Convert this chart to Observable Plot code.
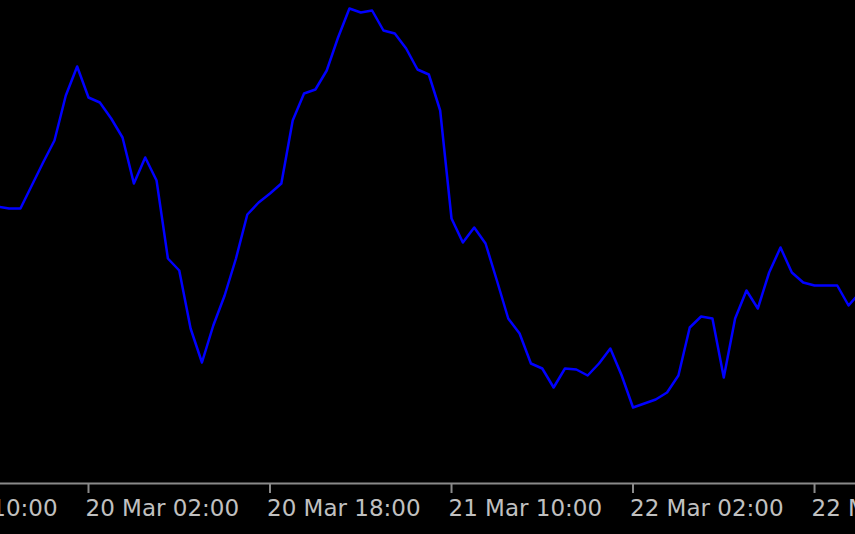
<!DOCTYPE html>
<html>
<head>
<meta charset="utf-8">
<script src="https://cdn.jsdelivr.net/npm/d3@7"></script>
<script src="https://cdn.jsdelivr.net/npm/@observablehq/plot@0.6"></script>
<style>
  html, body { margin: 0; padding: 0; background: #000; overflow: hidden; }
</style>
</head>
<body>
<div id="chart"></div>
<script>
// Hourly closes, starting 19 Mar 18:00 (UTC), one value per hour
const startTime = "2024-03-19T18:00:00Z";
const prices = [
  1.08554, 1.08550, 1.08550, 1.08596, 1.08642, 1.08686, 1.08776, 1.08834,
  1.08772, 1.08762, 1.08730, 1.08692, 1.08600, 1.08652, 1.08606, 1.08450,
  1.08426, 1.08310, 1.08242, 1.08316, 1.08376, 1.08450, 1.08538, 1.08562,
  1.08580, 1.08600, 1.08726, 1.08780, 1.08788, 1.08826, 1.08892, 1.08950,
  1.08942, 1.08946, 1.08906, 1.08900, 1.08870, 1.08828, 1.08818, 1.08746,
  1.08530, 1.08482, 1.08512, 1.08480, 1.08406, 1.08330, 1.08300, 1.08240,
  1.08230, 1.08192, 1.08230, 1.08228, 1.08216, 1.08240, 1.08270, 1.08216,
  1.08152, 1.08160, 1.08168, 1.08182, 1.08216, 1.08312, 1.08334, 1.08330,
  1.08212, 1.08330, 1.08386, 1.08350, 1.08422, 1.08472, 1.08422, 1.08402,
  1.08396, 1.08396, 1.08396, 1.08356, 1.08382
];
const tickLabels = [
  "2024-03-19T10:00:00Z", "2024-03-20T02:00:00Z", "2024-03-20T18:00:00Z",
  "2024-03-21T10:00:00Z", "2024-03-22T02:00:00Z", "2024-03-22T18:00:00Z"
];
const viewStart = "2024-03-19T18:14:35Z";
const viewEnd = "2024-03-22T21:36:40Z";
const priceMin = 1.08000, priceMax = 1.08966;

const HOUR = 3600 * 1000;
const t0 = new Date(startTime).getTime();
const data = prices.map((p, i) => ({ t: new Date(t0 + i * HOUR), p }));
const ticks = tickLabels.map(s => new Date(s));

const chart = Plot.plot({
  width: 855,
  height: 534,
  marginLeft: 0,
  marginRight: 0,
  marginTop: 0,
  marginBottom: 51,
  style: { background: "#000", color: "#c0c0c0", fontFamily: "DejaVu Sans, Tahoma, sans-serif", fontSize: "23px", overflow: "visible" },
  x: { type: "utc", domain: [new Date(viewStart), new Date(viewEnd)] },
  y: { domain: [priceMin, priceMax], axis: null },
  marks: [
    Plot.frame({ anchor: "bottom", stroke: "#8a8a8a", strokeWidth: 2 }),
    // tick marks only
    Plot.axisX({
      ticks: ticks,
      tickFormat: () => "",
      tickSize: 10,
      stroke: "#8a8a8a",
      strokeWidth: 2,
      label: null
    }),
    // tick labels, left-aligned just left of each tick
    Plot.axisX({
      ticks: ticks,
      tickFormat: d3.utcFormat("%-d %b %H:%M"),
      tickSize: 0,
      tickPadding: 16,
      textAnchor: "start",
      dx: -3,
      fill: "#c0c0c0",
      fontSize: 23,
      label: null
    }),
    Plot.line(data, { x: "t", y: "p", stroke: "#0000ff", strokeWidth: 2.5, clip: true })
  ]
});
document.getElementById("chart").appendChild(chart);
</script>
</body>
</html>
